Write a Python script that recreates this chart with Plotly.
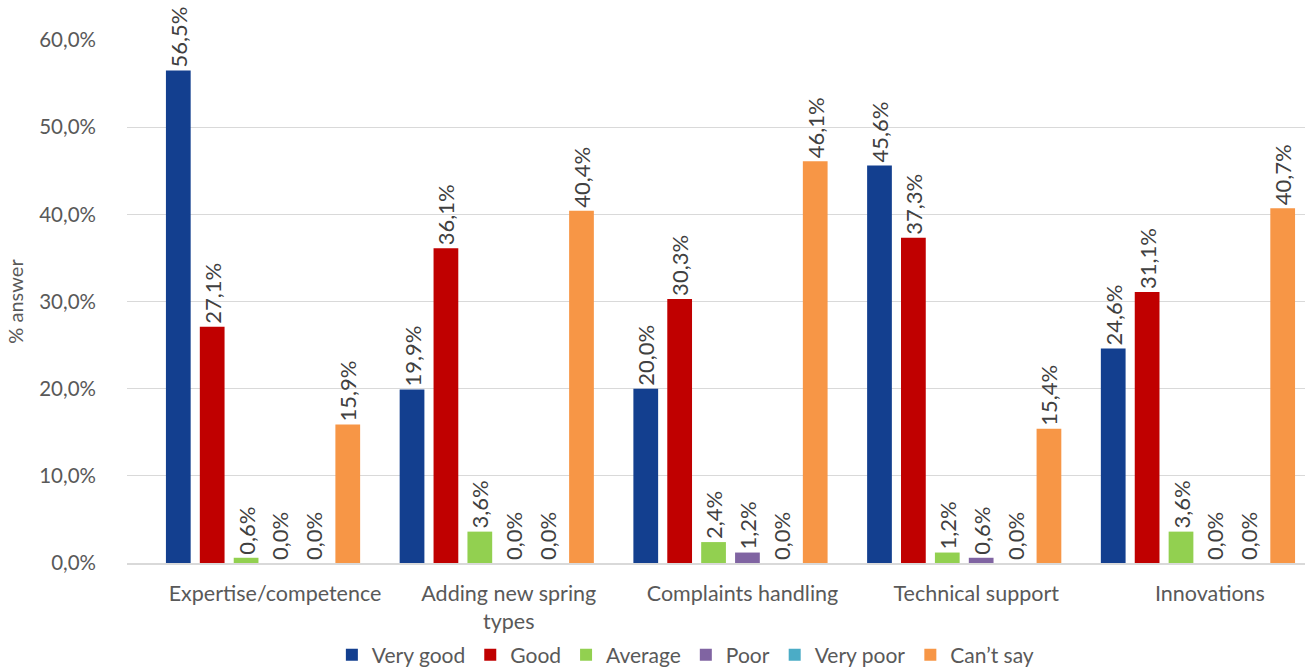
import plotly.graph_objects as go

categories = ["Expertise/competence", "Adding new spring<br>types", "Complaints handling",
              "Technical support", "Innovations"]
series_names = ["Very good", "Good", "Average", "Poor", "Very poor", "Can\u2019t say"]
very_good = [56.5, 19.9, 20.0, 45.6, 24.6]
good = [27.1, 36.1, 30.3, 37.3, 31.1]
average = [0.6, 3.6, 2.4, 1.2, 3.6]
poor = [0.0, 0.0, 1.2, 0.6, 0.0]
very_poor = [0.0, 0.0, 0.0, 0.0, 0.0]
cant_say = [15.9, 40.4, 46.1, 15.4, 40.7]
colors = ["#133F8F", "#C00000", "#92D050", "#8064A2", "#4BACC6", "#F79646"]
y_ticks = [0, 10, 20, 30, 40, 50, 60]
y_tick_text = [f"{v:.1f}%".replace(".", ",") for v in y_ticks]

FONT = "Lato, Carlito, Calibri, sans-serif"
fig = go.Figure()
for name, vals, col in zip(series_names,
                           [very_good, good, average, poor, very_poor, cant_say],
                           colors):
    fig.add_trace(go.Bar(
        x=categories, y=vals, name=name,
        marker=dict(color=col, line=dict(width=0)),
        texttemplate="%{y:.1f}%", textposition="outside", textangle=-90,
        textfont=dict(size=22, color="#404040", family=FONT),
        constraintext="none", cliponaxis=False,
    ))

fig.update_layout(
    barmode="group", bargap=0.13, bargroupgap=0.27,
    separators=",.",
    width=1308, height=668,
    margin=dict(l=127, r=3, t=40, b=105, autoexpand=False),
    plot_bgcolor="white", paper_bgcolor="white",
    font=dict(family=FONT, size=20, color="#595959"),
    legend=dict(orientation="h", x=0.474, xanchor="center", y=-0.176, yanchor="middle",
                font=dict(size=21, color="#595959"), itemwidth=30, traceorder="normal"),
    xaxis=dict(tickfont=dict(size=21.5, color="#595959"), ticks="", showgrid=False,
               showline=True, linecolor="#D9D9D9", linewidth=1.5,
               range=[-0.582, 4.458], ticklabelstandoff=10, ticklabelshift=12),
    yaxis=dict(range=[0, 60], tickvals=y_ticks, ticktext=y_tick_text,
               tickfont=dict(size=20.5, color="#595959"), showgrid=True,
               gridcolor="#D9D9D9", gridwidth=1, zeroline=False, ticks="",
               ticklabelstandoff=30,
               title=dict(text="% answer", font=dict(size=20, color="#595959"), standoff=10)),
)
fig.write_html("out.html", config={"displayModeBar": False},
               post_script="document.body.style.margin='0';")
